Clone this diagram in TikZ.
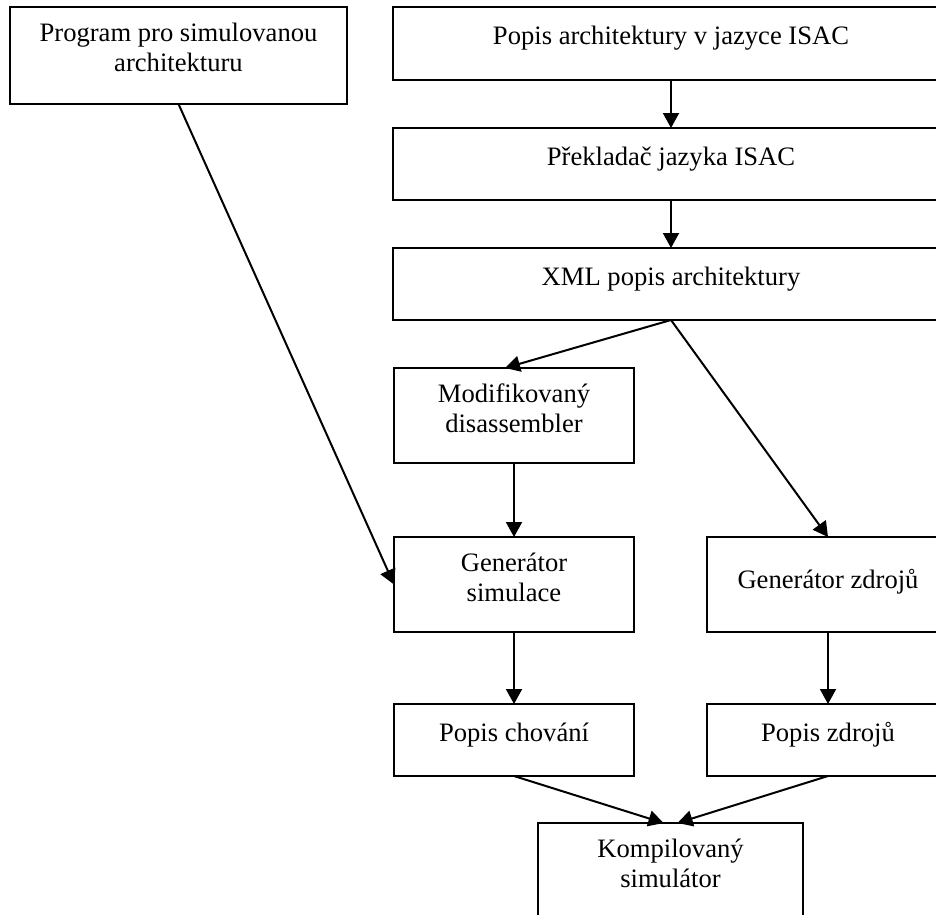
\documentclass[tikz,border=0pt]{standalone}
\usepackage{fontspec}
\setmainfont{Liberation Serif}
\usetikzlibrary{arrows.meta, positioning}

\tikzset{
  box/.style={rectangle, draw=black, line width=2pt, anchor=north west,
              inner sep=0pt, outer sep=0pt},
  lbl/.style={anchor=north, align=center, inner sep=0pt, yshift=-16pt,
              font=\fontsize{26.6}{30}\selectfont, execute at begin node=\strut},
  arrow/.style={-{Triangle[length=15pt, width=16pt]}, line width=2pt}
}

\begin{document}
\begin{tikzpicture}[x=1pt, y=-1pt]
    \clip (0,0) rectangle (936,914);

    % left input
    \node[box, minimum width=337pt, minimum height=97pt,
          label={[lbl]north:{Program pro simulovanou\\architekturu}}] (prog) at (10,7) {};

    % main column
    \node[box, minimum width=556pt, minimum height=73pt,
          label={[lbl]north:{Popis architektury v jazyce ISAC}}] (isac) at (393,7) {};
    \node[box, minimum width=556pt, minimum height=72pt,
          label={[lbl]north:{P\v{r}eklada\v{c} jazyka ISAC}}] (prekl) at (393,128) {};
    \node[box, minimum width=556pt, minimum height=72pt,
          label={[lbl]north:{XML popis architektury}}] (xml) at (393,248) {};

    \node[box, minimum width=240pt, minimum height=95pt,
          label={[lbl]north:{Modifikovaný\\disassembler}}] (disasm) at (394,368) {};
    \node[box, minimum width=240pt, minimum height=95pt,
          label={[lbl]north:{Generátor\\simulace}}] (gensim) at (394,537) {};
    \node[box, minimum width=242pt, minimum height=95pt,
          label={[lbl, yshift=-14pt]north:{Generátor zdrojů}}] (genzdr) at (707,537) {};

    \node[box, minimum width=240pt, minimum height=72pt,
          label={[lbl]north:{Popis chování}}] (chovani) at (394,704) {};
    \node[box, minimum width=242pt, minimum height=72pt,
          label={[lbl]north:{Popis zdrojů}}] (zdroje) at (707,704) {};

    \node[box, minimum width=265pt, minimum height=130pt,
          label={[lbl]north:{Kompilovaný\\simulátor}}] (kompil) at (538,823) {};

    \draw[arrow] (isac) -- (prekl);
    \draw[arrow] (prekl) -- (xml);
    \draw[arrow] (xml.south) -- ([xshift=-9pt]disasm.north);
    \draw[arrow] (xml.south) -- (genzdr.north);
    \draw[arrow] (disasm) -- (gensim);
    \draw[arrow] (genzdr) -- (zdroje);
    \draw[arrow] (gensim) -- (chovani);
    \draw[arrow] (prog.south) -- (gensim.west);
    \draw[arrow] (chovani.south) -- ([xshift=-7pt]kompil.north);
    \draw[arrow] (zdroje.south) -- ([xshift=7pt]kompil.north);
\end{tikzpicture}
\end{document}
